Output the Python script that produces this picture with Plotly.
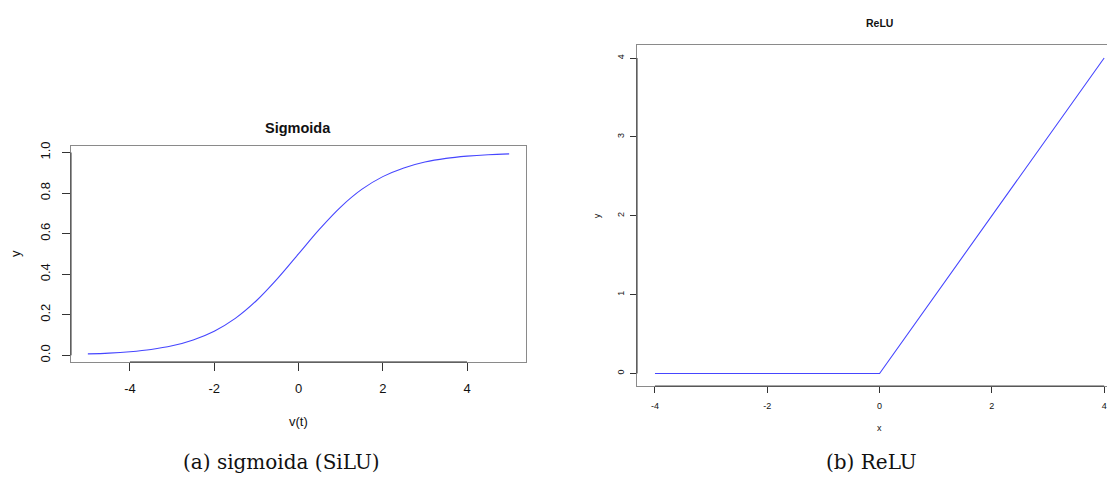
import plotly.graph_objects as go

# ---- data ----
sig_x = [-5, -4.5, -4, -3.5, -3, -2.5, -2, -1.5, -1, -0.5, 0, 0.5, 1, 1.5, 2, 2.5, 3, 3.5, 4, 4.5, 5]
sig_y = [0.007, 0.011, 0.018, 0.029, 0.047, 0.076, 0.119, 0.182, 0.269, 0.378, 0.5,
         0.622, 0.731, 0.818, 0.881, 0.924, 0.953, 0.971, 0.982, 0.989, 0.993]
sig_xticks = [-4, -2, 0, 2, 4]
sig_xticklabels = ["-4", "-2", "0", "2", "4"]
sig_yticks = [0, 0.2, 0.4, 0.6, 0.8, 1.0]
sig_yticklabels = ["0.0", "0.2", "0.4", "0.6", "0.8", "1.0"]

relu_x = [-4, 0, 4]
relu_y = [0, 0, 4]
relu_xticks = [-4, -2, 0, 2, 4]
relu_xticklabels = ["-4", "-2", "0", "2", "4"]
relu_yticks = [0, 1, 2, 3, 4]
relu_yticklabels = ["0", "1", "2", "3", "4"]

# page body has an 8px default margin; lay out in window pixel coordinates
OFF = 8
W, H = 1115 - OFF, 483 - 2 * OFF
def px(x): return (x - OFF) / W
def py(y): return 1 - (y - OFF) / H

LINE = "rgb(70,70,255)"
SANS = "Liberation Sans"
BOX = "#8a8a8a"
TICK = "#333333"

fig = go.Figure()
fig.add_trace(go.Scatter(x=sig_x, y=sig_y, mode="lines", line=dict(color=LINE, width=1.1, shape="spline"),
                         xaxis="x", yaxis="y", showlegend=False, hoverinfo="skip"))
fig.add_trace(go.Scatter(x=relu_x, y=relu_y, mode="lines", line=dict(color=LINE, width=1.1),
                         xaxis="x2", yaxis="y2", showlegend=False, hoverinfo="skip"))

common = dict(showgrid=False, zeroline=False, showline=True, linecolor=BOX, linewidth=1,
              ticks="outside", tickcolor=TICK, tickwidth=1)

fig.update_layout(
    width=W, height=H, margin=dict(l=0, r=0, t=0, b=0),
    paper_bgcolor="white", plot_bgcolor="white",
    xaxis=dict(domain=[px(71), px(526)], range=[-5.4, 5.4], tickvals=sig_xticks,
               ticktext=sig_xticklabels, ticklen=8, mirror=True, ticklabelstandoff=6,
               tickfont=dict(family=SANS, size=13, color="#111"), anchor="y", **common),
    yaxis=dict(domain=[py(361), py(143)], range=[-0.0328, 1.0328], tickvals=sig_yticks,
               ticktext=sig_yticklabels, tickangle=-90, ticklen=8, mirror=True, ticklabelstandoff=7,
               tickfont=dict(family=SANS, size=13, color="#111"), anchor="x", **common),
    xaxis2=dict(domain=[px(637), 1.0], range=[-4.32, 4.193], tickvals=relu_xticks,
                ticktext=relu_xticklabels, ticklen=6, mirror=True, ticklabelstandoff=5,
                tickfont=dict(family=SANS, size=9, color="#111"), anchor="y2", **common),
    yaxis2=dict(domain=[py(385.3), py(41.7)], range=[-0.16, 4.16], tickvals=relu_yticks,
                ticktext=relu_yticklabels, tickangle=-90, ticklen=6, mirror=False, ticklabelstandoff=2,
                tickfont=dict(family=SANS, size=9, color="#111"), anchor="x2", **common),
)

# darker axis segments spanning first..last tick (R style)
for xa, ya, xt, yt in [("x", "y", sig_xticks, sig_yticks), ("x2", "y2", relu_xticks, relu_yticks)]:
    fig.add_shape(type="line", xref=xa, yref=f"{ya} domain", x0=xt[0], x1=xt[-1], y0=0, y1=0,
                  line=dict(color=TICK, width=1))
    fig.add_shape(type="line", xref=f"{xa} domain", yref=ya, x0=0, x1=0, y0=yt[0], y1=yt[-1],
                  line=dict(color=TICK, width=1))

def ann(text, x, y, size, family=SANS, bold=False, angle=0):
    t = f"<b>{text}</b>" if bold else text
    fig.add_annotation(text=t, x=px(x), y=py(y), xref="paper", yref="paper", showarrow=False,
                       xanchor="center", yanchor="middle", textangle=angle, borderpad=0,
                       font=dict(family=family, size=size, color="#111"))

ann("Sigmoida", 298, 125, 14.5, bold=True)
ann("v(t)", 298, 421, 13)
ann("y", 16, 252, 13, angle=-90)

ann("ReLU", 879, 19, 10.5, bold=True)
ann("x", 879, 428, 9)
ann("y", 597, 214, 9, angle=-90)

ann("(a) sigmoida (SiLU)", 281, 462, 20, family="DejaVu Serif")
ann("(b) ReLU", 871, 462, 20, family="DejaVu Serif")

fig.write_html("out.html")
